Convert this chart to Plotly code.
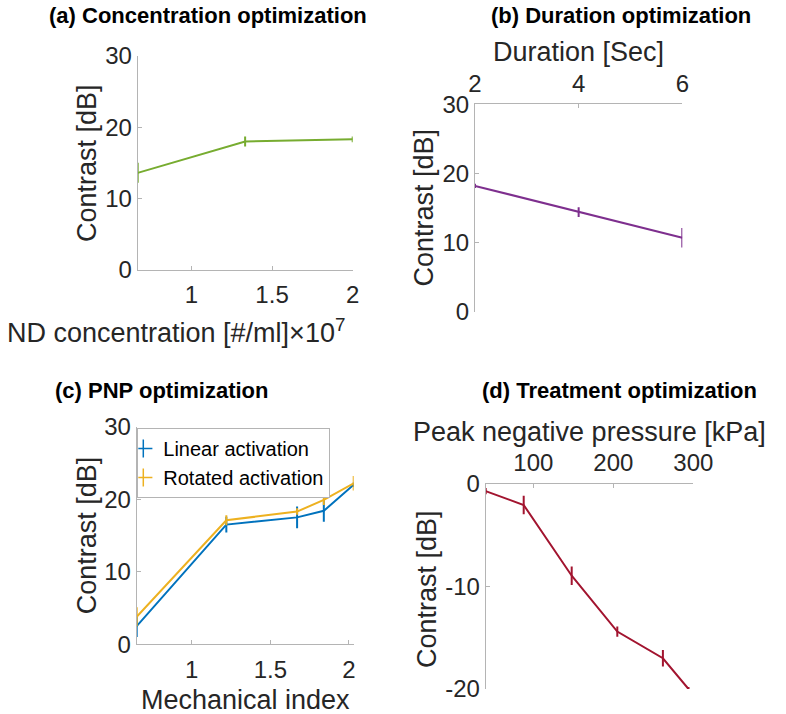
import plotly.graph_objects as go

W, H = 786, 714

# ---------------- data ----------------
conc_x = [0.667, 1.333, 2.0]          # x10^7 #/ml
conc_y = [13.6, 18.0, 18.3]
conc_err = [1.4, 0.7, 0.4]

dur_x = [2, 4, 6]                      # seconds
dur_y = [18.2, 14.4, 10.7]
dur_err = [0.3, 0.7, 1.4]

mi_x = [0.65, 1.22, 1.67, 1.84, 2.03]  # mechanical index
linear_y = [2.5, 16.5, 17.5, 18.4, 22.0]
linear_err = [1.5, 1.1, 1.5, 1.5, 0.3]
rotated_y = [3.8, 17.1, 18.3, 19.9, 22.2]
rotated_err = [1.3, 0.7, 0.45, 0.7, 1.0]

pnp_x = [40.5, 88, 148, 205, 262, 294]  # kPa
treat_y = [-0.7, -2.05, -8.95, -14.4, -17.0, -20.0]
treat_err = [0.3, 0.9, 0.9, 0.5, 0.8, 0.2]

contrast_ticks = [0, 10, 20, 30]
conc_ticks = [1, 1.5, 2]
dur_ticks = [2, 4, 6]
mi_ticks = [1, 1.5, 2]
pnp_ticks = [100, 200, 300]
treat_ticks = [-20, -10, 0]

titles = ["(a) Concentration optimization", "(b) Duration optimization",
          "(c) PNP optimization", "(d) Treatment optimization"]

# ---------------- style ----------------
FONT = "Liberation Sans, Arial, Helvetica, sans-serif"
TXT = "#262626"
AXC = "#b4b4b4"
GREEN, PURPLE, BLUE, YELLOW, RED = "#77AC30", "#7E2F8E", "#0072BD", "#EDB120", "#A2142F"


def px(x):
    return x / W


def py(y):
    return 1 - y / H


# panel boxes in pixels: left, right, top, bottom
A = (137.7, 352.7, 55.7, 270.0)
B = (475.0, 682.3, 104.3, 311.7)
C = (136.7, 353.7, 426.7, 644.3)
D = (485.7, 693.3, 484.0, 689.0)


def ax_common(**kw):
    d = dict(showline=True, linecolor=AXC, linewidth=1, showgrid=False, zeroline=False,
             automargin=False,
             ticks="inside", ticklen=4, tickcolor=AXC, tickwidth=1,
             tickfont=dict(family=FONT, size=24, color=TXT))
    d.update(kw)
    return d


def trace(x, y, err, color, xa, ya):
    return go.Scatter(x=x, y=y, mode="lines", xaxis=xa, yaxis=ya, showlegend=False,
                      line=dict(color=color, width=2), cliponaxis=False,
                      error_y=dict(type="data", array=err, visible=True, color=color,
                                   thickness=2, width=0))


fig = go.Figure()
fig.add_trace(trace(conc_x, conc_y, conc_err, GREEN, "x", "y"))
fig.add_trace(trace(dur_x, dur_y, dur_err, PURPLE, "x2", "y2"))
fig.add_trace(trace(mi_x, linear_y, linear_err, BLUE, "x3", "y3"))
fig.add_trace(trace(mi_x, rotated_y, rotated_err, YELLOW, "x3", "y3"))
fig.add_trace(trace(pnp_x, treat_y, treat_err, RED, "x4", "y4"))

# legend entries (error-bar style "+" icons)
for name, col in [("Linear activation", BLUE), ("Rotated activation", YELLOW)]:
    fig.add_trace(go.Scatter(x=[None], y=[None], mode="markers", name=name,
                             xaxis="x3", yaxis="y3",
                             marker=dict(symbol="cross-thin-open", size=13, color=col,
                                         line=dict(color=col, width=1.5))))

fig.update_layout(
    template="none",
    width=W, height=H, margin=dict(l=0, r=0, t=0, b=0, autoexpand=False),
    paper_bgcolor="white", plot_bgcolor="white",
    font=dict(family=FONT, color=TXT),
    xaxis=ax_common(domain=[px(A[0]), px(A[1])], anchor="y", range=[0.667, 2],
                    tickvals=conc_ticks, ticktext=["1", "1.5", "2"], ticklabelstandoff=3),
    yaxis=ax_common(domain=[py(A[3]), py(A[2])], anchor="x", range=[0, 30],
                    tickvals=contrast_ticks, ticklabelstandoff=0),
    xaxis2=ax_common(domain=[px(B[0]), px(B[1])], anchor="y2", side="top", range=[2, 6],
                     tickvals=dur_ticks, ticklabelstandoff=2),
    yaxis2=ax_common(domain=[py(B[3]), py(B[2])], anchor="x2", range=[0, 30],
                     tickvals=contrast_ticks, ticklabelstandoff=0),
    xaxis3=ax_common(domain=[px(C[0]), px(C[1])], anchor="y3", range=[0.65, 2.03],
                     tickvals=mi_ticks, ticktext=["1", "1.5", "2"], ticklabelstandoff=4),
    yaxis3=ax_common(domain=[py(C[3]), py(C[2])], anchor="x3", range=[0, 30],
                     tickvals=contrast_ticks, ticklabelstandoff=0),
    xaxis4=ax_common(domain=[px(D[0]), px(D[1])], anchor="y4", side="top", range=[40.5, 300],
                     tickvals=pnp_ticks, ticklabelstandoff=2),
    yaxis4=ax_common(domain=[py(D[3]), py(D[2])], anchor="x4", range=[-20, 0],
                     tickvals=treat_ticks, ticktext=[str(v) for v in treat_ticks],
                     ticklabelstandoff=0),
    legend=dict(x=px(137.3), y=py(428), xanchor="left", yanchor="top",
                bgcolor="white", bordercolor=AXC, borderwidth=1,
                font=dict(family=FONT, size=20, color="black"),
                tracegroupgap=0, itemwidth=30, indentation=-15),
)

ann = []
# bold panel titles
for t, (x, y) in zip(titles, [(208, 15), (620.5, 15), (161.7, 390.3), (619.7, 390.3)]):
    ann.append(dict(text="<b>%s</b>" % t, x=px(x), y=py(y), xref="paper", yref="paper",
                    xanchor="center", yanchor="middle", showarrow=False,
                    font=dict(family=FONT, size=22, color="black")))

labels = [
    ("Contrast [dB]", 87, 163, -90),
    ("ND concentration [#/ml]×10<sup>7</sup>", 176, 331, 0),
    ("Duration [Sec]", 578.8, 51.7, 0),
    ("Contrast [dB]", 423, 207.5, -90),
    ("Contrast [dB]", 87, 535.3, -90),
    ("Mechanical index", 245.3, 700, 0),
    ("Peak negative pressure [kPa]", 589.7, 432, 0),
    ("Contrast [dB]", 426.3, 588.7, -90),
]
for t, x, y, ang in labels:
    ann.append(dict(text=t, x=px(x), y=py(y), xref="paper", yref="paper",
                    xanchor="center", yanchor="middle", showarrow=False, textangle=ang,
                    font=dict(family=FONT, size=27, color=TXT)))

fig.update_layout(annotations=ann)
fig.write_html("out.html", config={"displayModeBar": False},
               post_script="document.body.style.margin='0';document.body.style.overflow='hidden';")
